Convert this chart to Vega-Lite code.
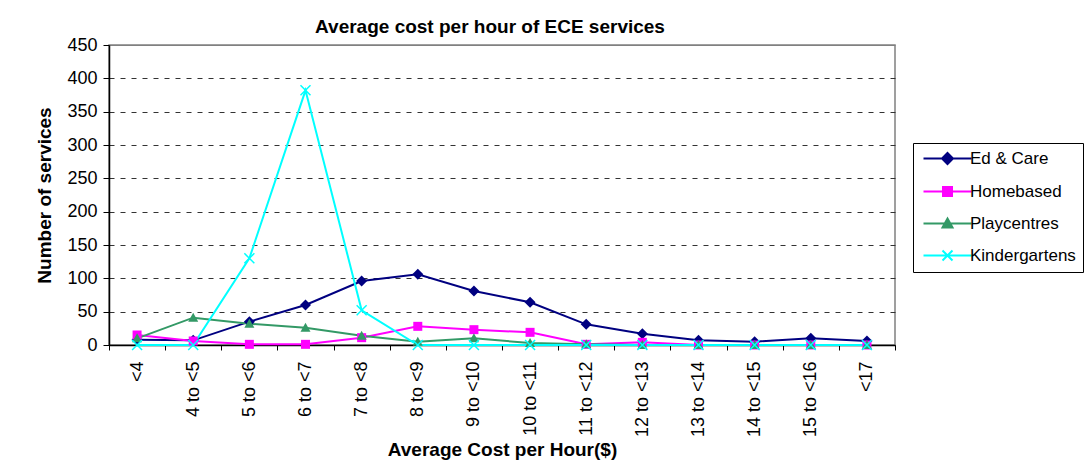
{
  "$schema": "https://vega.github.io/schema/vega-lite/v6.json",
  "width": 786,
  "height": 300,
  "autosize": {"type": "none"},
  "padding": {"left": 109, "top": 45, "right": 193, "bottom": 119},
  "background": "white",
  "title": {
    "text": "Average cost per hour of ECE services",
    "font": "Liberation Sans",
    "fontSize": 19,
    "fontWeight": "bold",
    "color": "black",
    "anchor": "middle",
    "dx": -12,
    "offset": -1
  },
  "data": {
    "values": [
      {"cost": "<4", "series": "Ed & Care", "n": 8},
      {"cost": "4 to <5", "series": "Ed & Care", "n": 7},
      {"cost": "5 to <6", "series": "Ed & Care", "n": 35},
      {"cost": "6 to <7", "series": "Ed & Care", "n": 60},
      {"cost": "7 to <8", "series": "Ed & Care", "n": 96},
      {"cost": "8 to <9", "series": "Ed & Care", "n": 106},
      {"cost": "9 to <10", "series": "Ed & Care", "n": 81},
      {"cost": "10 to <11", "series": "Ed & Care", "n": 64},
      {"cost": "11 to <12", "series": "Ed & Care", "n": 31},
      {"cost": "12 to <13", "series": "Ed & Care", "n": 17},
      {"cost": "13 to <14", "series": "Ed & Care", "n": 7},
      {"cost": "14 to <15", "series": "Ed & Care", "n": 5},
      {"cost": "15 to <16", "series": "Ed & Care", "n": 10},
      {"cost": "<17", "series": "Ed & Care", "n": 6},
      {"cost": "<4", "series": "Homebased", "n": 15},
      {"cost": "4 to <5", "series": "Homebased", "n": 6},
      {"cost": "5 to <6", "series": "Homebased", "n": 1},
      {"cost": "6 to <7", "series": "Homebased", "n": 1},
      {"cost": "7 to <8", "series": "Homebased", "n": 11},
      {"cost": "8 to <9", "series": "Homebased", "n": 28},
      {"cost": "9 to <10", "series": "Homebased", "n": 23},
      {"cost": "10 to <11", "series": "Homebased", "n": 19},
      {"cost": "11 to <12", "series": "Homebased", "n": 1},
      {"cost": "12 to <13", "series": "Homebased", "n": 4},
      {"cost": "13 to <14", "series": "Homebased", "n": 0},
      {"cost": "14 to <15", "series": "Homebased", "n": 0},
      {"cost": "15 to <16", "series": "Homebased", "n": 0},
      {"cost": "<17", "series": "Homebased", "n": 0},
      {"cost": "<4", "series": "Playcentres", "n": 10},
      {"cost": "4 to <5", "series": "Playcentres", "n": 41},
      {"cost": "5 to <6", "series": "Playcentres", "n": 32},
      {"cost": "6 to <7", "series": "Playcentres", "n": 26},
      {"cost": "7 to <8", "series": "Playcentres", "n": 14},
      {"cost": "8 to <9", "series": "Playcentres", "n": 5},
      {"cost": "9 to <10", "series": "Playcentres", "n": 10},
      {"cost": "10 to <11", "series": "Playcentres", "n": 3},
      {"cost": "11 to <12", "series": "Playcentres", "n": 1},
      {"cost": "12 to <13", "series": "Playcentres", "n": 0},
      {"cost": "13 to <14", "series": "Playcentres", "n": 0},
      {"cost": "14 to <15", "series": "Playcentres", "n": 0},
      {"cost": "15 to <16", "series": "Playcentres", "n": 0},
      {"cost": "<17", "series": "Playcentres", "n": 0},
      {"cost": "<4", "series": "Kindergartens", "n": 0},
      {"cost": "4 to <5", "series": "Kindergartens", "n": 0},
      {"cost": "5 to <6", "series": "Kindergartens", "n": 130},
      {"cost": "6 to <7", "series": "Kindergartens", "n": 382},
      {"cost": "7 to <8", "series": "Kindergartens", "n": 52},
      {"cost": "8 to <9", "series": "Kindergartens", "n": 0},
      {"cost": "9 to <10", "series": "Kindergartens", "n": 0},
      {"cost": "10 to <11", "series": "Kindergartens", "n": 0},
      {"cost": "11 to <12", "series": "Kindergartens", "n": 0},
      {"cost": "12 to <13", "series": "Kindergartens", "n": 0},
      {"cost": "13 to <14", "series": "Kindergartens", "n": 0},
      {"cost": "14 to <15", "series": "Kindergartens", "n": 0},
      {"cost": "15 to <16", "series": "Kindergartens", "n": 0},
      {"cost": "<17", "series": "Kindergartens", "n": 0}
    ]
  },
  "encoding": {
    "x": {
      "field": "cost",
      "type": "nominal",
      "sort": ["<4", "4 to <5", "5 to <6", "6 to <7", "7 to <8", "8 to <9", "9 to <10", "10 to <11", "11 to <12", "12 to <13", "13 to <14", "14 to <15", "15 to <16", "<17"],
      "scale": {"type": "band", "paddingInner": 0, "paddingOuter": 0},
      "axis": {
        "title": "Average Cost per Hour($)",
        "labelAngle": -90,
        "labelAlign": "right",
        "labelBaseline": "middle",
        "tickBand": "extent",
        "tickSize": 5,
        "labelPadding": 11,
        "titlePadding": 4,
        "grid": false
      }
    },
    "y": {
      "field": "n",
      "type": "quantitative",
      "scale": {"domain": [0, 450], "nice": false},
      "axis": {
        "title": "Number of services",
        "values": [0, 50, 100, 150, 200, 250, 300, 350, 400, 450],
        "tickSize": 6,
        "labelPadding": 6,
        "titlePadding": 12,
        "grid": true,
        "gridColor": {"condition": {"test": "datum.value >= 450", "value": "#808080"}, "value": "#333333"},
        "gridDash": {"condition": {"test": "datum.value >= 450", "value": []}, "value": [5, 6]}
      }
    },
    "color": {
      "field": "series",
      "type": "nominal",
      "scale": {
        "domain": ["Ed & Care", "Homebased", "Playcentres", "Kindergartens"],
        "range": ["#000080", "#FF00FF", "#339966", "#00FFFF"]
      },
      "legend": {
        "title": null,
        "orient": "none",
        "legendX": 804,
        "legendY": 98,
        "padding": 7,
        "strokeColor": "black",
        "fillColor": "white",
        "labelFont": "Liberation Sans",
        "labelFontSize": 17,
        "labelColor": "black",
        "labelOffset": 33,
        "rowPadding": 14,
        "symbolSize": 100,
        "symbolStrokeWidth": 2,
        "encode": {
          "symbols": {
            "update": {
              "shape": {"signal": "datum.value == 'Ed & Care' ? 'M-1,0H8.6M3.8,-1.1L4.9,0L3.8,1.1L2.7,0Z' : datum.value == 'Homebased' ? 'M-1,0H8.6M2.9,-0.9H4.7V0.9H2.9Z' : datum.value == 'Playcentres' ? 'M-1,0H8.6M3.8,-1L4.8,0.8H2.8Z' : 'M-1,0H8.6M2.8,-1L4.8,1M2.8,1L4.8,-1'"},
              "fill": {"signal": "scale('color', datum.value)"},
              "stroke": {"signal": "scale('color', datum.value)"},
              "strokeWidth": {"value": 2},
              "opacity": {"value": 1}
            }
          }
        }
      }
    }
  },
  "layer": [
    {
      "mark": {"type": "line", "strokeWidth": 2}
    },
    {
      "transform": [{"filter": "datum.series == 'Ed & Care'"}],
      "mark": {"type": "point", "filled": true, "opacity": 1, "size": 100, "shape": "M0,-1.1L1.1,0L0,1.1L-1.1,0Z"}
    },
    {
      "transform": [{"filter": "datum.series == 'Homebased'"}],
      "mark": {"type": "point", "filled": true, "opacity": 1, "size": 100, "shape": "M-0.9,-0.9H0.9V0.9H-0.9Z"}
    },
    {
      "transform": [{"filter": "datum.series == 'Playcentres'"}],
      "mark": {"type": "point", "filled": true, "opacity": 1, "size": 100, "shape": "M0,-1L1,0.8H-1Z"}
    },
    {
      "transform": [{"filter": "datum.series == 'Kindergartens'"}],
      "mark": {"type": "point", "filled": false, "opacity": 1, "size": 100, "strokeWidth": 1.5, "shape": "M-1,-1L1,1M-1,1L1,-1"}
    }
  ],
  "config": {
    "view": {"stroke": "#808080", "strokeWidth": 1.5},
    "font": "Liberation Sans",
    "axis": {
      "domainColor": "black",
      "domainWidth": 1.5,
      "tickColor": "black",
      "labelFont": "Liberation Sans",
      "labelFontSize": 18,
      "labelColor": "black",
      "titleFont": "Liberation Sans",
      "titleFontSize": 19,
      "titleFontWeight": "bold",
      "titleColor": "black"
    }
  }
}
